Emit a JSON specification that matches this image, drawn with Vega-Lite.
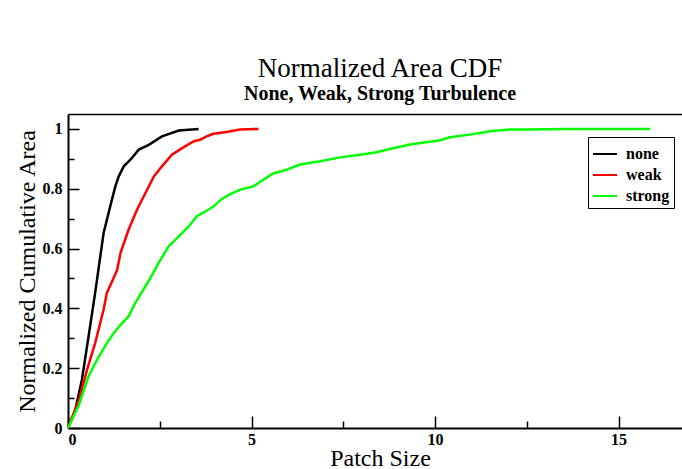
{
  "$schema": "https://vega.github.io/schema/vega-lite/v6.json",
  "width": 614,
  "height": 314,
  "autosize": "none",
  "padding": {"left": 68, "top": 114, "right": 0, "bottom": 41},
  "background": "white",
  "title": {
    "text": "Normalized Area CDF",
    "subtitle": "None, Weak, Strong Turbulence",
    "font": "Liberation Serif",
    "fontSize": 27,
    "fontWeight": "normal",
    "color": "black",
    "subtitleFont": "Liberation Serif",
    "subtitleFontSize": 20,
    "subtitleFontWeight": "bold",
    "subtitleColor": "black",
    "subtitlePadding": 1,
    "offset": 9,
    "anchor": "middle",
    "dx": 5
  },
  "config": {
    "view": {"stroke": null},
    "axis": {
      "grid": false,
      "labelFont": "Liberation Serif",
      "labelFontWeight": "bold",
      "labelFontSize": 16,
      "labelColor": "black",
      "titleFont": "Liberation Serif",
      "titleFontWeight": "normal",
      "titleFontSize": 24,
      "titleColor": "black",
      "domainColor": "black",
      "domainWidth": 2,
      "tickColor": "black",
      "tickWidth": 1.5
    }
  },
  "data": {
    "values": [
      {"series": "none", "x": 0, "y": 0},
      {"series": "none", "x": 0.2, "y": 0.061},
      {"series": "none", "x": 0.38, "y": 0.162},
      {"series": "none", "x": 0.56, "y": 0.306},
      {"series": "none", "x": 0.74, "y": 0.452},
      {"series": "none", "x": 0.97, "y": 0.652},
      {"series": "none", "x": 1.15, "y": 0.741},
      {"series": "none", "x": 1.29, "y": 0.808},
      {"series": "none", "x": 1.38, "y": 0.841},
      {"series": "none", "x": 1.52, "y": 0.875},
      {"series": "none", "x": 1.7, "y": 0.897},
      {"series": "none", "x": 1.93, "y": 0.931},
      {"series": "none", "x": 2.2, "y": 0.947},
      {"series": "none", "x": 2.56, "y": 0.975},
      {"series": "none", "x": 3.02, "y": 0.995},
      {"series": "none", "x": 3.56, "y": 1.0},
      {"series": "weak", "x": 0, "y": 0},
      {"series": "weak", "x": 0.29, "y": 0.09},
      {"series": "weak", "x": 0.52, "y": 0.195},
      {"series": "weak", "x": 0.74, "y": 0.284},
      {"series": "weak", "x": 0.97, "y": 0.396},
      {"series": "weak", "x": 1.06, "y": 0.452},
      {"series": "weak", "x": 1.2, "y": 0.49},
      {"series": "weak", "x": 1.34, "y": 0.529},
      {"series": "weak", "x": 1.43, "y": 0.585},
      {"series": "weak", "x": 1.65, "y": 0.663},
      {"series": "weak", "x": 1.88, "y": 0.73},
      {"series": "weak", "x": 2.11, "y": 0.786},
      {"series": "weak", "x": 2.34, "y": 0.841},
      {"series": "weak", "x": 2.56, "y": 0.875},
      {"series": "weak", "x": 2.83, "y": 0.914},
      {"series": "weak", "x": 3.11, "y": 0.936},
      {"series": "weak", "x": 3.43, "y": 0.959},
      {"series": "weak", "x": 3.6, "y": 0.964},
      {"series": "weak", "x": 3.78, "y": 0.975},
      {"series": "weak", "x": 3.96, "y": 0.984},
      {"series": "weak", "x": 4.32, "y": 0.99},
      {"series": "weak", "x": 4.69, "y": 0.998},
      {"series": "weak", "x": 5.19, "y": 1.0},
      {"series": "strong", "x": 0, "y": 0},
      {"series": "strong", "x": 0.3, "y": 0.078},
      {"series": "strong", "x": 0.56, "y": 0.173},
      {"series": "strong", "x": 0.84, "y": 0.239},
      {"series": "strong", "x": 1.06, "y": 0.284},
      {"series": "strong", "x": 1.25, "y": 0.318},
      {"series": "strong", "x": 1.43, "y": 0.345},
      {"series": "strong", "x": 1.65, "y": 0.373},
      {"series": "strong", "x": 1.83, "y": 0.418},
      {"series": "strong", "x": 2.11, "y": 0.474},
      {"series": "strong", "x": 2.22, "y": 0.496},
      {"series": "strong", "x": 2.47, "y": 0.552},
      {"series": "strong", "x": 2.74, "y": 0.607},
      {"series": "strong", "x": 3.02, "y": 0.641},
      {"series": "strong", "x": 3.29, "y": 0.674},
      {"series": "strong", "x": 3.51, "y": 0.708},
      {"series": "strong", "x": 3.74, "y": 0.724},
      {"series": "strong", "x": 3.98, "y": 0.742},
      {"series": "strong", "x": 4.19, "y": 0.766},
      {"series": "strong", "x": 4.41, "y": 0.781},
      {"series": "strong", "x": 4.69, "y": 0.797},
      {"series": "strong", "x": 5.05, "y": 0.808},
      {"series": "strong", "x": 5.32, "y": 0.83},
      {"series": "strong", "x": 5.59, "y": 0.851},
      {"series": "strong", "x": 5.96, "y": 0.864},
      {"series": "strong", "x": 6.32, "y": 0.881},
      {"series": "strong", "x": 6.87, "y": 0.892},
      {"series": "strong", "x": 7.41, "y": 0.905},
      {"series": "strong", "x": 7.96, "y": 0.914},
      {"series": "strong", "x": 8.41, "y": 0.922},
      {"series": "strong", "x": 8.77, "y": 0.933},
      {"series": "strong", "x": 9.32, "y": 0.948},
      {"series": "strong", "x": 10.14, "y": 0.962},
      {"series": "strong", "x": 10.41, "y": 0.972},
      {"series": "strong", "x": 10.95, "y": 0.981},
      {"series": "strong", "x": 11.5, "y": 0.992},
      {"series": "strong", "x": 12.04, "y": 0.998},
      {"series": "strong", "x": 12.59, "y": 0.998},
      {"series": "strong", "x": 13.5, "y": 1.0},
      {"series": "strong", "x": 15.86, "y": 1.0}
    ]
  },
  "resolve": {"axis": {"x": "independent", "y": "independent"}},
  "layer": [
    {
      "mark": {"type": "line", "strokeWidth": 2.5},
      "encoding": {
        "x": {
          "field": "x", "type": "quantitative",
          "scale": {"domain": [0, 16.73], "nice": false, "zero": false},
          "axis": {"orient": "bottom", "values": [0, 5, 10, 15], "format": "~g", "tickSize": -12, "labelPadding": 15, "title": "Patch Size", "titleBaseline": "alphabetic", "titleY": 37, "titleX": 312}
        },
        "y": {
          "field": "y", "type": "quantitative",
          "scale": {"domain": [0, 1.05], "nice": false},
          "axis": {"orient": "left", "values": [0, 0.2, 0.4, 0.6, 0.8, 1], "format": "~g", "tickSize": -11, "labelPadding": 17, "title": "Normalized Cumulative Area", "titlePadding": 3}
        },
        "color": {
          "field": "series", "type": "nominal",
          "scale": {"domain": ["none", "weak", "strong"], "range": ["#000000", "#ff0000", "#00ff00"]},
          "legend": {
            "orient": "none", "legendX": 520, "legendY": 23, "title": null,
            "symbolType": "stroke", "symbolSize": 576, "symbolStrokeWidth": 2,
            "labelFont": "Liberation Serif", "labelFontWeight": "bold", "labelFontSize": 16, "labelColor": "black",
            "strokeColor": "black", "fillColor": "white", "padding": 4, "rowPadding": -8, "labelOffset": 8
          }
        }
      }
    },
    {
      "mark": {"type": "line", "strokeOpacity": 0},
      "encoding": {
        "x": {"field": "x", "type": "quantitative", "axis": {"orient": "bottom", "values": [2.5, 7.5, 12.5], "labels": false, "domain": false, "tickSize": -7, "title": null}},
        "y": {"field": "y", "type": "quantitative", "axis": {"orient": "left", "values": [0.1, 0.3, 0.5, 0.7, 0.9], "labels": false, "domain": false, "tickSize": -6, "title": null}},
        "detail": {"field": "series"}
      }
    },
    {
      "mark": {"type": "line", "strokeOpacity": 0},
      "encoding": {
        "x": {"field": "x", "type": "quantitative", "axis": {"orient": "top", "labels": false, "ticks": false, "domain": true, "domainWidth": 1.5, "title": null}},
        "y": {"field": "y", "type": "quantitative", "axis": null},
        "detail": {"field": "series"}
      }
    }
  ]
}
